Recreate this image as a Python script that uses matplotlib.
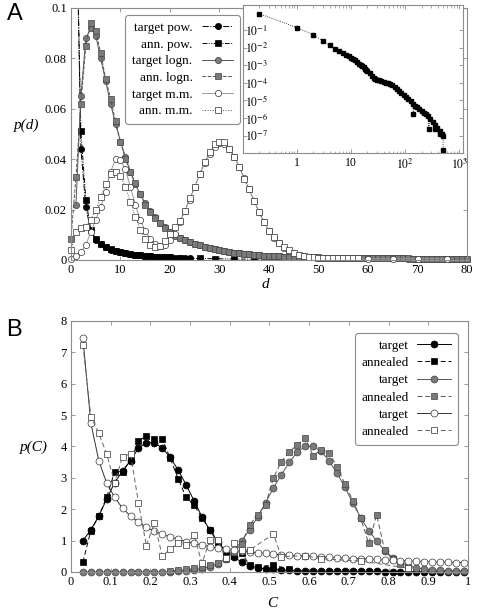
import matplotlib
matplotlib.use("Agg")
import matplotlib.pyplot as plt
from matplotlib.ticker import NullLocator

plt.rcParams['font.family'] = ['Liberation Serif', 'DejaVu Serif']
plt.rcParams['mathtext.fontset'] = 'stix'
plt.rcParams['font.size'] = 9

GRAY = '#7a7a7a'
FRAME = '#8c8c8c'

# Panel A: degree distributions #####################################################

d_pow_t = list(range(1, 25))
p_pow_t = [0.15, 0.044, 0.021, 0.0115, 0.0080, 0.0062, 0.0050, 0.0041, 0.0035, 0.0030,
           0.0026, 0.0023, 0.0020, 0.0018, 0.0016, 0.0014, 0.0013, 0.0012, 0.0011, 0.0010,
           0.0009, 0.00085, 0.0008, 0.00075]

d_pow_a = list(range(1, 21)) + [22, 26, 29, 33, 37, 42, 47, 60]
p_pow_a = [0.15, 0.051, 0.024, 0.0119, 0.0083, 0.0063, 0.0051, 0.0042, 0.0036, 0.0031,
           0.0027, 0.0023, 0.0021, 0.0018, 0.0016, 0.0015, 0.0013, 0.0012, 0.0011, 0.0010,
           0.0008, 0.0006, 0.0005, 0.0004, 0.0003, 0.0003, 0.0002, 0.0002]

d_logn_t = list(range(1, 81))
p_logn_t = [0.022, 0.065, 0.088, 0.092, 0.089, 0.080, 0.071, 0.062, 0.054, 0.047,
            0.041, 0.035, 0.030, 0.026, 0.0225, 0.0195, 0.017, 0.0148, 0.0129, 0.0112,
            0.0098, 0.0087, 0.0078, 0.0071, 0.0064, 0.0058, 0.0053, 0.0048, 0.0043, 0.0039,
            0.0035, 0.0031, 0.0028, 0.0026, 0.0024, 0.0022, 0.0020, 0.0018, 0.0017, 0.0016,
            0.0015, 0.0014, 0.0013, 0.0012, 0.0012, 0.0011, 0.0011, 0.0010, 0.0010, 0.0009,
            0.0009, 0.0009, 0.0008, 0.0008, 0.0008, 0.0008, 0.0007, 0.0007, 0.0007, 0.0007,
            0.0007, 0.0006, 0.0006, 0.0006, 0.0006, 0.0006, 0.0006, 0.0005, 0.0005, 0.0005,
            0.0005, 0.0005, 0.0005, 0.0005, 0.0004, 0.0004, 0.0004, 0.0004, 0.0004, 0.0004]

d_logn_a = list(range(0, 81))
p_logn_a = [0.0083, 0.033, 0.062, 0.085, 0.094, 0.091, 0.082, 0.072, 0.064, 0.055, 0.047,
            0.040, 0.035, 0.0305, 0.026, 0.022, 0.019, 0.0165, 0.0145, 0.0127, 0.011,
            0.0097, 0.0088, 0.0079, 0.0072, 0.0065, 0.0059, 0.0053, 0.0048, 0.0044, 0.0040,
            0.0036, 0.0032, 0.0029, 0.0026, 0.0024, 0.0022, 0.0020, 0.0019, 0.0017, 0.0016,
            0.0015, 0.0014, 0.0013, 0.0013, 0.0012, 0.0011, 0.0011, 0.0010, 0.0010, 0.0010,
            0.0009, 0.0009, 0.0009, 0.0008, 0.0008, 0.0008, 0.0008, 0.0007, 0.0007, 0.0007,
            0.0007, 0.0007, 0.0006, 0.0006, 0.0006, 0.0006, 0.0006, 0.0006, 0.0005, 0.0005,
            0.0005, 0.0005, 0.0005, 0.0005, 0.0005, 0.0005, 0.0004, 0.0004, 0.0004, 0.0004]

d_mm_t = list(range(0, 49)) + [60, 65, 70, 76]
p_mm_t = [0.0005, 0.0015, 0.003, 0.006, 0.011, 0.016, 0.021, 0.027, 0.035, 0.040,
          0.0395, 0.036, 0.029, 0.022, 0.016, 0.0115, 0.0085, 0.0065, 0.0055, 0.006,
          0.008, 0.0105, 0.015, 0.0195, 0.024, 0.029, 0.034, 0.0385, 0.042, 0.045,
          0.0465, 0.046, 0.044, 0.041, 0.037, 0.0325, 0.028, 0.0235, 0.019, 0.015,
          0.0115, 0.0088, 0.0066, 0.0049, 0.0036, 0.0026, 0.0019, 0.0014, 0.0010,
          0.0005, 0.0005, 0.0005, 0.0005]

d_mm_a = list(range(0, 59))
p_mm_a = [0.004, 0.011, 0.0125, 0.013, 0.016, 0.020, 0.025, 0.030, 0.034, 0.035,
          0.0335, 0.029, 0.023, 0.017, 0.012, 0.0085, 0.006, 0.005, 0.0055, 0.0075,
          0.0105, 0.013, 0.0155, 0.0195, 0.0245, 0.029, 0.034, 0.039, 0.043, 0.046,
          0.047, 0.047, 0.044, 0.041, 0.037, 0.032, 0.028, 0.0235, 0.019, 0.015,
          0.0115, 0.009, 0.0068, 0.005, 0.0038, 0.0028, 0.002, 0.0014, 0.0011, 0.001,
          0.0009, 0.0009, 0.0008, 0.0008, 0.0008, 0.0008, 0.0007, 0.0007, 0.0007]

# inset (log-log, power law)
d_ins = [0.2, 1, 2, 3, 4, 5, 6, 7, 8, 9, 10, 11, 12, 13, 14, 15, 16, 17, 18, 19, 20,
         22, 24, 26, 28, 30, 33, 36, 40, 44, 48, 53, 58, 64, 70, 77, 85, 94, 103, 113,
         125, 137, 141, 150, 165, 180, 200, 220, 240, 265, 270, 290, 320, 350, 355, 390,
         430, 440, 470, 500, 500]
p_ins = [0.89, 0.141, 0.056, 0.0245, 0.0141, 8.9e-3, 6.6e-3, 5.0e-3, 4.0e-3, 3.4e-3,
         2.8e-3, 2.3e-3, 1.9e-3, 1.6e-3, 1.26e-3, 1.05e-3, 8.9e-4, 7.6e-4, 6.0e-4, 5.2e-4,
         4.7e-4, 3.5e-4, 2.4e-4, 1.9e-4, 1.66e-4, 1.51e-4, 1.38e-4, 1.26e-4, 1.12e-4, 1.05e-4,
         9.5e-5, 8.7e-5, 7.9e-5, 5.8e-5, 4.5e-5, 3.5e-5, 2.6e-5, 2.1e-5, 1.6e-5, 1.2e-5,
         8.9e-6, 6.6e-6, 1.8e-6, 5.1e-6, 4.0e-6, 3.2e-6, 2.5e-6, 2.0e-6, 1.66e-6, 1.38e-6,
         2.4e-7, 8.9e-7, 5.6e-7, 4.2e-7, 2.4e-7, 2.6e-7, 1.8e-7, 1.26e-7, 1.26e-7, 1.0e-7,
         1.6e-8]

# Panel B: clustering distributions #################################################

C_grid = [0.03, 0.05, 0.07, 0.09, 0.11, 0.13, 0.15, 0.17, 0.19, 0.21,
          0.23, 0.25, 0.27, 0.29, 0.31, 0.33, 0.35, 0.37, 0.39, 0.41,
          0.43, 0.45, 0.47, 0.49, 0.51, 0.53, 0.55, 0.57, 0.59, 0.61,
          0.63, 0.65, 0.67, 0.69, 0.71, 0.73, 0.75, 0.77, 0.79, 0.81,
          0.83, 0.85, 0.87, 0.89, 0.91, 0.93, 0.95, 0.97, 0.99]

pC_black_t = [1.0, 1.34, 1.78, 2.33, 2.85, 3.22, 3.55, 3.95, 4.12, 4.12,
              3.95, 3.65, 3.25, 2.78, 2.27, 1.76, 1.33, 0.95, 0.65, 0.48,
              0.31, 0.2, 0.14, 0.1, 0.08, 0.06, 0.05, 0.04, 0.03, 0.03,
              0.03, 0.02, 0.02, 0.02, 0.02, 0.02, 0.02, 0.02, 0.01, 0.01,
              0.01, 0.01, 0.01, 0.01, 0.01, 0.01, 0.01, 0.01, 0.01]

C_black_a = [0.03, 0.05, 0.07, 0.09, 0.11, 0.13, 0.15, 0.17, 0.19, 0.21,
             0.23, 0.25, 0.27, 0.29, 0.31, 0.33, 0.35, 0.37, 0.39, 0.41,
             0.43, 0.45, 0.47, 0.51, 0.55]
pC_black_a = [0.31, 1.32, 1.78, 2.38, 3.2, 3.2, 3.57, 4.17, 4.35, 4.24,
              4.24, 3.62, 2.97, 2.38, 2.14, 1.72, 1.34, 0.97, 0.65, 0.5,
              0.6, 0.22, 0.17, 0.22, 0.09]

pC_gray_t = [0.0, 0.0, 0.0, 0.0, 0.0, 0.0, 0.0, 0.0, 0.0, 0.0,
             0.0, 0.01, 0.02, 0.04, 0.07, 0.11, 0.17, 0.26, 0.42, 0.65,
             1.0, 1.35, 1.75, 2.2, 2.68, 3.1, 3.5, 3.82, 4.0, 4.0,
             3.85, 3.55, 3.15, 2.7, 2.2, 1.72, 1.32, 0.99, 0.68, 0.46,
             0.31, 0.2, 0.13, 0.09, 0.07, 0.05, 0.04, 0.03, 0.03]

C_gray_a = [0.25, 0.27, 0.29, 0.31, 0.33, 0.35, 0.37, 0.39, 0.41, 0.43,
            0.45, 0.47, 0.49, 0.51, 0.53, 0.55, 0.57, 0.59, 0.61, 0.63,
            0.65, 0.67, 0.69, 0.71, 0.73, 0.75, 0.77, 0.79, 0.81, 0.83, 0.85]
pC_gray_a = [0.03, 0.05, 0.08, 0.12, 0.17, 0.22, 0.3, 0.42, 0.65, 0.9,
             1.5, 1.82, 2.14, 3.0, 3.52, 3.83, 4.05, 4.27, 3.71, 3.89,
             3.8, 3.36, 2.8, 2.27, 1.71, 0.91, 1.82, 0.7, 0.4, 0.25, 0.12]

pC_white_t = [7.45, 4.75, 3.55, 2.83, 2.38, 2.03, 1.78, 1.6, 1.42, 1.3,
              1.2, 1.12, 1.04, 0.97, 0.91, 0.86, 0.8, 0.77, 0.73, 0.69,
              0.66, 0.64, 0.61, 0.59, 0.57, 0.55, 0.54, 0.52, 0.51, 0.5,
              0.48, 0.47, 0.46, 0.44, 0.43, 0.42, 0.41, 0.4, 0.38, 0.37,
              0.36, 0.35, 0.34, 0.33, 0.32, 0.31, 0.31, 0.3, 0.3]

C_white_a = [0.03, 0.05, 0.07, 0.09, 0.11, 0.13, 0.15, 0.17, 0.19, 0.21,
             0.23, 0.25, 0.27, 0.29, 0.31, 0.33, 0.35, 0.37, 0.39, 0.41,
             0.43, 0.45, 0.51, 0.53, 0.59, 0.63, 0.73, 0.85]
pC_white_a = [7.25, 4.95, 4.42, 3.76, 2.85, 3.68, 3.76, 2.21, 0.83, 1.57,
              0.51, 0.72, 0.91, 0.86, 1.18, 0.28, 1.02, 1.02, 0.44, 0.91,
              0.70, 0.70, 1.21, 0.49, 0.52, 0.42, 0.35, 0.12]


def style(ax):
    for s in ax.spines.values():
        s.set_color(FRAME)
        s.set_linewidth(0.8)
    ax.tick_params(direction='in', length=3, width=0.6, color=FRAME,
                   top=True, right=True, labelsize=9, pad=3)


fig = plt.figure(figsize=(4.78, 6.10), dpi=100)
axA = fig.add_axes([0.1485, 0.5738, 0.8285, 0.4131])
axB = fig.add_axes([0.1485, 0.0623, 0.8305, 0.4115])

mk = dict(ms=4.5, mew=0.5, lw=0.7)

# Draw panel A ######################################################################

axA.plot(d_pow_t, p_pow_t, ls='-.', color='k', marker='o', mfc='k', mec='k',
         label='target pow.', **mk)
axA.plot(d_pow_a, p_pow_a, ls=(0, (5, 1.5, 1, 1.5, 1, 1.5)), color='k', marker='s',
         mfc='k', mec='k', label='ann. pow.', **mk)
axA.plot(d_logn_t, p_logn_t, ls='-', color='#555555', marker='o', mfc=GRAY,
         mec='#444444', label='target logn.', clip_on=False, **mk)
axA.plot(d_logn_a, p_logn_a, ls='--', color='#555555', marker='s', mfc=GRAY,
         mec='#444444', label='ann. logn.', clip_on=False, **mk)
axA.plot(d_mm_t, p_mm_t, ls='-', color='#9a9a9a', marker='o', mfc='white',
         mec='#333333', label='target m.m.', clip_on=False, **mk)
axA.plot(d_mm_a, p_mm_a, ls=':', color='#555555', marker='s', mfc='white',
         mec='#333333', label='ann. m.m.', clip_on=False, **mk)

axA.set_xlim(0, 80)
axA.set_ylim(0, 0.1)
axA.set_xticks(range(0, 81, 10))
axA.set_yticks([0, 0.02, 0.04, 0.06, 0.08, 0.1])
axA.set_yticklabels(['0', '0.02', '0.04', '0.06', '0.08', '0.1'])
style(axA)
axA.set_xlabel('d', fontstyle='italic', fontsize=11, va='center')
axA.xaxis.set_label_coords(0.49, -0.099)
axA.set_ylabel('p(d)', fontstyle='italic', fontsize=11, rotation=0, ha='center', va='center')
axA.yaxis.set_label_coords(-0.111, 0.536)

legA = axA.legend(loc='upper right', bbox_to_anchor=(0.427, 0.972), markerfirst=False,
                  fontsize=9.5, fancybox=True, edgecolor=FRAME, framealpha=1,
                  labelspacing=0.34, handlelength=2.4, handletextpad=0.7,
                  borderpad=0.5, borderaxespad=0)
legA.get_frame().set_linewidth(0.8)

# inset
axIn = fig.add_axes([0.508, 0.749, 0.46, 0.2426])
axIn.plot(d_ins, p_ins, ls=':', color='k', lw=0.6, marker='s', ms=2.4, mfc='k', mec='k')
axIn.set_xscale('log')
axIn.set_yscale('log')
axIn.set_xlim(0.1, 1150)
axIn.set_ylim(1e-8, 2.7)
style(axIn)
axIn.set_xticks([1, 10, 100, 1000])
axIn.set_xticklabels(['1', '10', r'$10^2$', r'$10^3$'], fontsize=8.5)
axIn.set_yticks([1e-1, 1e-2, 1e-3, 1e-4, 1e-5, 1e-6, 1e-7])
axIn.set_yticklabels([r'$10^{-%d}$' % k for k in range(1, 8)], fontsize=8.5, ha='left')
axIn.yaxis.set_minor_locator(NullLocator())
axIn.tick_params(axis='y', pad=-1.5)
axIn.tick_params(which='minor', direction='in', length=1.8, width=0.5, color=FRAME,
                 top=True, bottom=True)

# Draw panel B ######################################################################

mkB = dict(ms=5, mew=0.5, lw=0.7, clip_on=False)
axB.plot(C_grid, pC_black_t, ls='-', color='k', marker='o', mfc='k', mec='k',
         label='target', **mkB)
axB.plot(C_black_a, pC_black_a, ls=(0, (5, 3)), color='k', marker='s', mfc='k', mec='k',
         label='annealed', **mkB)
axB.plot(C_grid, pC_gray_t, ls='-', color='#555555', marker='o', mfc=GRAY,
         mec='#444444', label='target', **mkB)
axB.plot(C_gray_a, pC_gray_a, ls=(0, (5, 3)), color='#555555', marker='s', mfc=GRAY,
         mec='#444444', label='annealed', **mkB)
axB.plot(C_grid, pC_white_t, ls='-', color='#333333', marker='o', mfc='white',
         mec='#333333', label='target', **mkB)
axB.plot(C_white_a, pC_white_a, ls=(0, (5, 3)), color='#666666', marker='s', mfc='white',
         mec='#333333', label='annealed', **mkB)

axB.set_xlim(0, 1)
axB.set_ylim(0, 8)
axB.set_xticks([0, 0.1, 0.2, 0.3, 0.4, 0.5, 0.6, 0.7, 0.8, 0.9, 1])
axB.set_xticklabels(['0', '0.1', '0.2', '0.3', '0.4', '0.5', '0.6', '0.7', '0.8', '0.9', '1'])
axB.set_yticks(range(0, 9))
style(axB)
axB.set_xlabel('C', fontstyle='italic', fontsize=11, va='center')
axB.xaxis.set_label_coords(0.508, -0.124)
axB.set_ylabel('p(C)', fontstyle='italic', fontsize=11, rotation=0, ha='center', va='center')
axB.yaxis.set_label_coords(-0.093, 0.498)

legB = axB.legend(loc='upper right', bbox_to_anchor=(0.975, 0.952), markerfirst=False,
                  fontsize=9.5, fancybox=True, edgecolor=FRAME, framealpha=1,
                  labelspacing=0.38, handlelength=2.6, handletextpad=0.6,
                  borderpad=0.5, borderaxespad=0)
legB.get_frame().set_linewidth(0.8)

fig.text(15 / 478, 1 - 14 / 610, 'A', family='Liberation Sans', fontsize=17,
         ha='center', va='center')
fig.text(14 / 478, 1 - 330 / 610, 'B', family='Liberation Sans', fontsize=17,
         ha='center', va='center')

fig.savefig('out.png', dpi=100)
